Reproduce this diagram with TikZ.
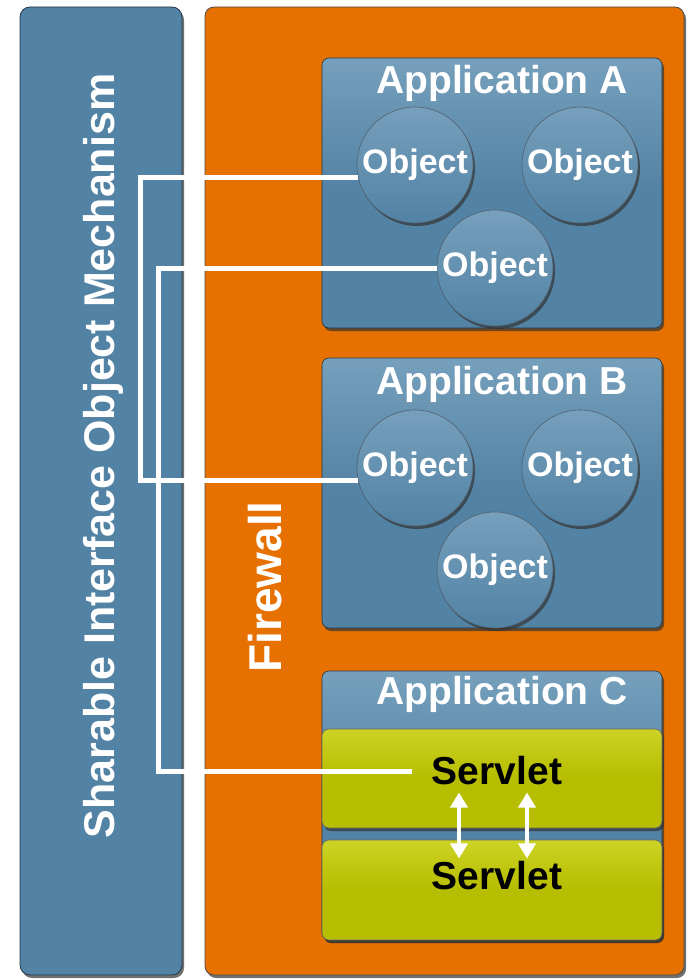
\documentclass[tikz,border=0pt]{standalone}
\usepackage{fontspec}
\setmainfont{Liberation Sans}
\usetikzlibrary{arrows.meta,shadows}
\definecolor{appblue}{RGB}{82,130,164}
\definecolor{appbluelight}{RGB}{118,160,188}
\definecolor{appbluedark}{RGB}{38,56,72}
\definecolor{fworange}{RGB}{230,112,0}
\definecolor{srvgreen}{RGB}{183,189,0}
\definecolor{srvgreenlight}{RGB}{204,211,36}
\newcommand{\fs}[1]{\fontsize{#1}{#1}\selectfont\bfseries}

\begin{document}
\begin{tikzpicture}[
  x=1pt, y=-1pt,
  shadowed/.style={drop shadow={shadow xshift=2pt, shadow yshift=-3pt, opacity=0.7, fill=black!80}},
  bar/.style={shadowed, draw=appbluedark, line width=0.8pt, rounded corners=10pt, fill=appblue, inner sep=0pt},
  firewall/.style={shadowed, draw=black!70, line width=0.8pt, rounded corners=9pt, fill=fworange, inner sep=0pt},
  app/.style={shadowed, draw=appbluedark, line width=0.6pt, rounded corners=7pt, top color=appbluelight, bottom color=appblue, middle color=appblue, inner sep=0pt, minimum width=340pt},
  servlet/.style={shadowed, draw=black!60, line width=0.6pt, rounded corners=7pt, top color=srvgreenlight, bottom color=srvgreen, middle color=srvgreen, inner sep=0pt, minimum width=340pt},
  object/.style={circle, shadowed, draw=appbluedark!80, line width=0.6pt, top color=appbluelight, bottom color=appblue, minimum size=116pt, inner sep=0pt, text=white, font=\fs{34}},
  title/.style={text=white, font=\fs{39}, inner sep=2pt},
  srvtext/.style={text=black, font=\fs{39}, inner xsep=20pt, inner ysep=3pt},
  vertical/.style={rotate=90, text=white, inner sep=2pt},
  wire/.style={draw=white, line width=5pt},
  link/.style={{Triangle[width=17pt,length=15pt]}-{Triangle[width=17pt,length=15pt]}, draw=white, line width=4.5pt}
]
\useasboundingbox (0,0) rectangle (689,979);

% left bar and firewall panel
\node[bar, minimum width=162pt, minimum height=968pt] (mechanism) at (101,491) {};
\node[firewall, minimum width=479pt, minimum height=968pt] (fwpanel) at (444.5,491) {};
\node[vertical, font=\fs{43}] (mechtext) at (103,456) {Sharable Interface Object Mechanism};
\node[vertical, font=\fs{46}] (fwtext) at (265,587) {Firewall};

% applications
\node[app, minimum height=270pt] (appA) at (492,193) {};
\node[app, minimum height=270pt] (appB) at (492,493) {};
\node[app, minimum height=269pt] (appC) at (492,805.5) {};
\node[title] (appAtitle) at (502,83) {Application A};
\node[title] (appBtitle) at (502,384) {Application B};
\node[title] (appCtitle) at (502,694) {Application C};

\node[object] (a1) at (415,165) {Object};
\node[object] (a2) at (580,165) {Object};
\node[object] (a3) at (495,268) {Object};
\node[object] (b1) at (415,468) {Object};
\node[object] (b2) at (580,468) {Object};
\node[object] (b3) at (495,570) {Object};

\node[servlet, minimum height=99pt] (srvA) at (492,778.5) {};
\node[servlet, minimum height=100pt] (srvB) at (492,890) {};
\node[srvtext] (srvAtext) at (497,771) {Servlet};
\node[srvtext] (srvBtext) at (497,876) {Servlet};

% connections
\coordinate (busout) at (140,0);
\coordinate (busin) at (158,0);
\draw[wire] (a1.192) -| (busout |- b1.192) -- (b1.192);
\draw[wire] (a3.west) -| (busin |- srvAtext.west) -- (srvAtext.west);
\draw[link] ([xshift=-38pt,yshift=-4pt]srvAtext.south) -- ([xshift=-38pt]srvBtext.north);
\draw[link] ([xshift=30pt,yshift=-4pt]srvAtext.south) -- ([xshift=30pt]srvBtext.north);

\end{tikzpicture}
\end{document}
